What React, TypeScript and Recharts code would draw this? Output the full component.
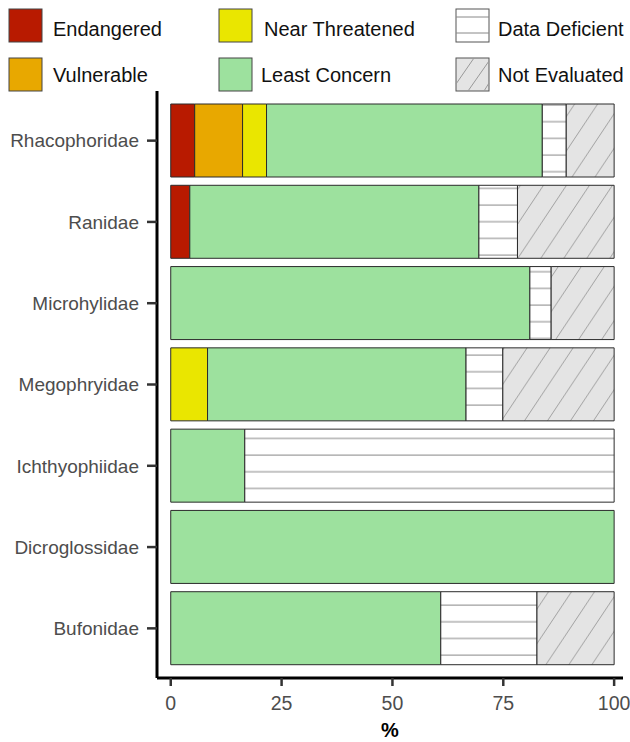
import React from 'react';
import { BarChart, Bar, XAxis, YAxis } from 'recharts';

const families = ['Rhacophoridae', 'Ranidae', 'Microhylidae', 'Megophryidae', 'Ichthyophiidae', 'Dicroglossidae', 'Bufonidae'];
const endangered = [5.4, 4.3, 0, 0, 0, 0, 0];
const vulnerable = [10.8, 0, 0, 0, 0, 0, 0];
const nearThreatened = [5.4, 0, 0, 8.3, 0, 0, 0];
const leastConcern = [62.2, 65.2, 81.0, 58.3, 16.7, 100, 60.9];
const dataDeficient = [5.4, 8.7, 4.8, 8.3, 83.3, 0, 21.7];
const notEvaluated = [10.8, 21.8, 14.2, 25.1, 0, 0, 17.4];
const xTicks = [0, 25, 50, 75, 100];

const FONT = '"Liberation Sans", Arial, sans-serif';
const EDGE = '#2b2b2b';

const series = [
  { key: 'en', name: 'Endangered', fill: '#b81a00' },
  { key: 'vu', name: 'Vulnerable', fill: '#e8a800' },
  { key: 'nt', name: 'Near Threatened', fill: '#eae600' },
  { key: 'lc', name: 'Least Concern', fill: '#9de19e' },
  { key: 'dd', name: 'Data Deficient', fill: 'url(#ddPattern)' },
  { key: 'ne', name: 'Not Evaluated', fill: 'url(#nePattern)' },
];

const rows = families.map((family, i) => ({
  family,
  en: endangered[i],
  vu: vulnerable[i],
  nt: nearThreatened[i],
  lc: leastConcern[i],
  dd: dataDeficient[i],
  ne: notEvaluated[i],
}));

// legend slots: [swatch x, text x, row]
const legendPos: Record<string, [number, number, number]> = {
  en: [9, 53, 0],
  nt: [219, 264, 0],
  dd: [456, 498, 0],
  vu: [9, 53, 1],
  lc: [219, 261, 1],
  ne: [456, 498, 1],
};

const Legend = () => (
  <svg width={630} height={100} style={{ position: 'absolute', left: 0, top: 0, fontFamily: FONT }}>
    {series.map((s) => {
      const [sx, tx, row] = legendPos[s.key];
      const y = row === 0 ? 9 : 58;
      const w = 33;
      const h = 33;
      return (
        <g key={s.key}>
          {s.key === 'dd' ? (
            <g>
              <rect x={sx} y={y} width={w} height={h} fill="#fff" stroke="#555" strokeWidth={1} />
              <line x1={sx} x2={sx + w} y1={y + 8} y2={y + 8} stroke="#888" />
              <line x1={sx} x2={sx + w} y1={y + 24} y2={y + 24} stroke="#888" />
            </g>
          ) : s.key === 'ne' ? (
            <g>
              <rect x={sx} y={y} width={w} height={h} fill="#e4e4e4" stroke="#555" strokeWidth={1} />
              <line x1={sx} x2={sx + 18} y1={y + 26} y2={y} stroke="#999" />
              <line x1={sx + 12} x2={sx + w} y1={y + h} y2={y + h - 30} stroke="#999" />
              <line x1={sx + 28} x2={sx + w} y1={y + h} y2={y + h - 8} stroke="#999" />
            </g>
          ) : (
            <rect x={sx} y={y} width={w} height={h} fill={s.fill} stroke="#444" strokeWidth={1} />
          )}
          <text x={tx} y={row === 0 ? 35.5 : 81.5} fontSize={20} fill="#111">
            {s.name}
          </text>
        </g>
      );
    })}
  </svg>
);

export default function App() {
  return (
    <div style={{ position: 'absolute', left: 0, top: 0, width: 630, height: 742, background: '#fff' }}>
      <BarChart
        width={630}
        height={742}
        data={rows}
        layout="vertical"
        margin={{ top: 91, right: 7, left: 0, bottom: 0 }}
        style={{ fontFamily: FONT }}
      >
        <defs>
          <pattern id="ddPattern" patternUnits="userSpaceOnUse" width={10} height={16.67}>
            <rect width={10} height={16.67} fill="#fff" />
            <line x1={0} x2={10} y1={5} y2={5} stroke="#888" strokeWidth={1} />
          </pattern>
          <pattern id="nePattern" patternUnits="userSpaceOnUse" width={23} height={34.5}>
            <rect width={23} height={34.5} fill="#e4e4e4" />
            <line x1={0} y1={34.5} x2={23} y2={0} stroke="#999" strokeWidth={0.9} />
            <line x1={-2} y1={3} x2={2} y2={-3} stroke="#999" strokeWidth={0.9} />
            <line x1={21} y1={37.5} x2={25} y2={31.5} stroke="#999" strokeWidth={0.9} />
          </pattern>
        </defs>
        <XAxis
          type="number"
          domain={[-3.1, 102]}
          ticks={xTicks}
          allowDataOverflow
          height={64}
          tickSize={8}
          tickMargin={10}
          axisLine={{ stroke: '#000', strokeWidth: 3 }}
          tickLine={{ stroke: '#333', strokeWidth: 2.5 }}
          tick={{ fill: '#4d4d4d', fontSize: 19.5 }}
          label={{ value: '%', position: 'insideBottom', offset: 5, fill: '#000', fontSize: 20, fontWeight: 'bold' }}
        />
        <YAxis
          type="category"
          dataKey="family"
          width={157}
          tickSize={10}
          tickMargin={8}
          padding={{ top: 9, bottom: 9 }}
          axisLine={{ stroke: '#000', strokeWidth: 3 }}
          tickLine={{ stroke: '#333', strokeWidth: 2.5 }}
          tick={{ fill: '#4d4d4d', fontSize: 19 }}
        />
        {series.map((s) => (
          <Bar
            key={s.key}
            dataKey={s.key}
            name={s.name}
            stackId="status"
            fill={s.fill}
            stroke={EDGE}
            strokeWidth={1}
            barSize={73}
            isAnimationActive={false}
          />
        ))}
      </BarChart>
      <Legend />
    </div>
  );
}
